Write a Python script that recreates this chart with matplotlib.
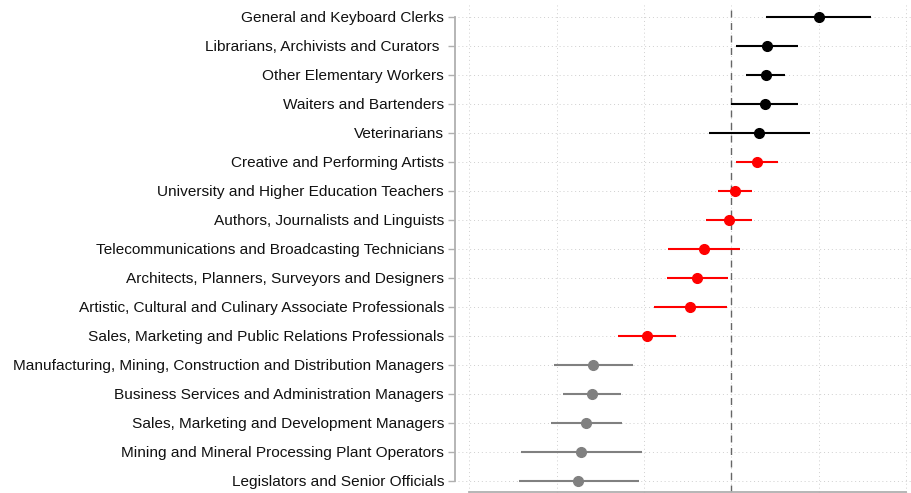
import matplotlib

matplotlib.use("Agg")
import matplotlib.pyplot as plt
import numpy as np

occupations = [
    "General and Keyboard Clerks",
    "Librarians, Archivists and Curators ",
    "Other Elementary Workers",
    "Waiters and Bartenders",
    "Veterinarians",
    "Creative and Performing Artists",
    "University and Higher Education Teachers",
    "Authors, Journalists and Linguists",
    "Telecommunications and Broadcasting Technicians",
    "Architects, Planners, Surveyors and Designers",
    "Artistic, Cultural and Culinary Associate Professionals",
    "Sales, Marketing and Public Relations Professionals",
    "Manufacturing, Mining, Construction and Distribution Managers",
    "Business Services and Administration Managers",
    "Sales, Marketing and Development Managers",
    "Mining and Mineral Processing Plant Operators",
    "Legislators and Senior Officials",
]
estimate = [1.00, 0.41, 0.40, 0.39, 0.32, 0.29, 0.04, -0.03, -0.31, -0.39,
            -0.47, -0.97, -1.58, -1.60, -1.66, -1.72, -1.75]
ci_low = [0.40, 0.05, 0.17, 0.00, -0.26, 0.05, -0.15, -0.29, -0.73, -0.74,
          -0.88, -1.30, -2.03, -1.93, -2.07, -2.41, -2.43]
ci_high = [1.60, 0.76, 0.62, 0.77, 0.90, 0.54, 0.24, 0.24, 0.10, -0.04,
           -0.05, -0.63, -1.13, -1.26, -1.25, -1.02, -1.06]
group = ["top"] * 5 + ["mid"] * 7 + ["low"] * 5

group_colors = {"top": "black", "mid": "#ff0000", "low": "#808080"}

plt.rcParams["font.family"] = ["Liberation Sans", "DejaVu Sans"]

fig = plt.figure(figsize=(9.12, 4.93), dpi=100)
ax = fig.add_axes([458 / 912, 1 / 493, 454 / 912, 487 / 493])

y = np.arange(len(occupations))
for yi, est, lo, hi, g in zip(y, estimate, ci_low, ci_high, group):
    c = group_colors[g]
    ax.plot([lo, hi], [yi, yi], color=c, lw=1.5, solid_capstyle="butt", zorder=3)
    ax.plot(est, yi, "o", color=c, markersize=7, zorder=4)

# reference line at zero effect
ax.axvline(0, color="#666666", lw=1.0, ls=(0, (5, 4)), zorder=2)

ax.set_xlim(-3.13, 2.07)
ax.set_ylim(16.38, -0.41)
ax.set_xticks(np.arange(-3, 3, 1))
ax.set_xticklabels([])
ax.set_yticks(y)
ax.set_yticklabels(occupations)

ax.grid(True, color="#cfcfcf", ls=(0, (1, 3)), lw=0.7, zorder=0)

for side in ["top", "right"]:
    ax.spines[side].set_visible(False)
ax.spines["left"].set_bounds(0, 16)
ax.spines["left"].set_position(("outward", 2))
ax.spines["bottom"].set_bounds(-3, 2)
for side in ["left", "bottom"]:
    ax.spines[side].set_color("#b0b0b0")
    ax.spines[side].set_linewidth(1.3)
ax.tick_params(axis="both", color="#b0b0b0", length=5, width=1.0)
ax.tick_params(axis="y", pad=3, labelcolor="#111111", labelsize=11.1)

fig.savefig("out.png", dpi=100)
